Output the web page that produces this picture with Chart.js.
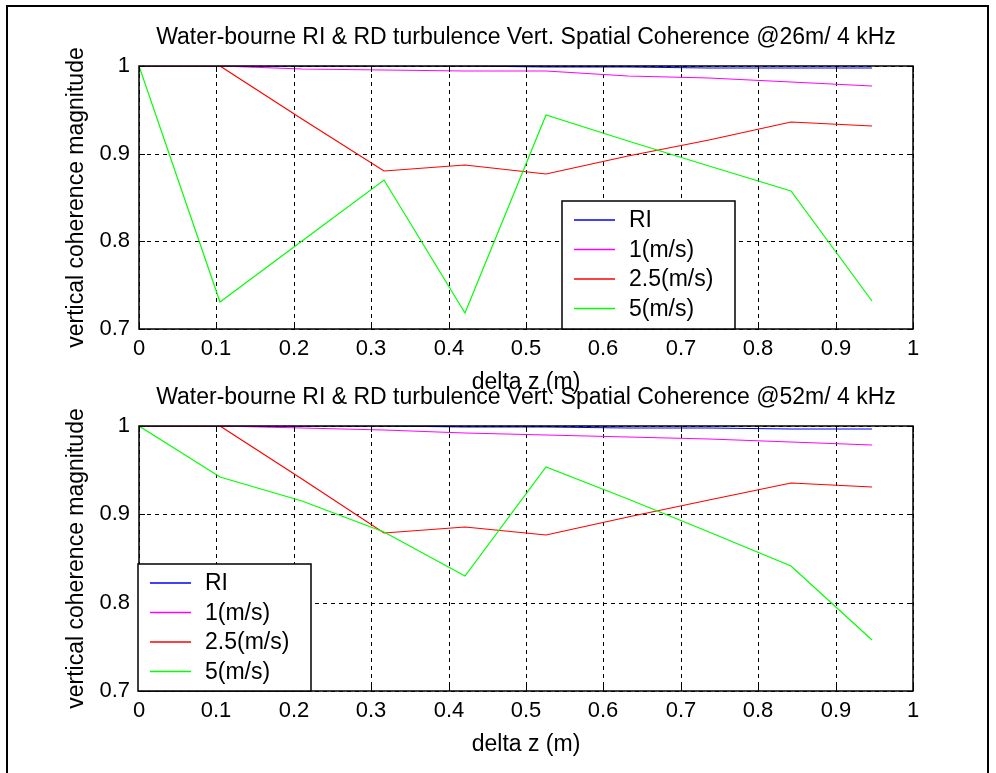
<!DOCTYPE html>
<html>
<head>
<meta charset="utf-8">
<title>Vertical spatial coherence</title>
<script src="https://cdn.jsdelivr.net/npm/chart.js@4.4.1/dist/chart.umd.min.js"></script>
<style>
  html, body { margin: 0; padding: 0; background: #fff; }
  body { width: 996px; height: 773px; position: relative; overflow: hidden; }
  #frame { position: absolute; left: 6px; top: 5px; width: 979px; height: 900px; border: 2px solid #000; border-bottom: none; }
  canvas { position: absolute; left: 0; }
  #chart26 { top: 0; }
  #chart52 { top: 359px; }
</style>
</head>
<body>
<div id="frame"></div>
<canvas id="chart26" width="996" height="400"></canvas>
<canvas id="chart52" width="996" height="400"></canvas>
<script>
// sensor separation (m)
const dz = [0, 0.105, 0.211, 0.316, 0.421, 0.526, 0.632, 0.737, 0.842, 0.947];

const seriesNames = ["RI", "1(m/s)", "2.5(m/s)", "5(m/s)"];
const seriesColors = ["#0000ff", "#ff00ff", "#ff0000", "#00ff00"];

// coherence at 26 m
const ri26 = [1, 1, 1, 1, 0.9995, 0.999, 0.9985, 0.998, 0.998, 0.998];
const wind1_26 = [1, 1, 0.997, 0.996, 0.9945, 0.994, 0.989, 0.986, 0.9815, 0.977];
const wind25_26 = [1, 1, 0.94, 0.88, 0.887, 0.877, 0.897, 0.916, 0.936, 0.932];
const wind5_26 = [1, 0.731, 0.8, 0.87, 0.718, 0.944, 0.915, 0.886, 0.857, 0.732];

// coherence at 52 m
const ri52 = [1, 1, 1, 0.9995, 0.999, 0.999, 0.998, 0.9975, 0.997, 0.997];
const wind1_52 = [1, 1, 0.998, 0.995, 0.992, 0.99, 0.988, 0.985, 0.982, 0.979];
const wind25_52 = [1, 1, 0.94, 0.879, 0.886, 0.877, 0.897, 0.916, 0.935, 0.931];
const wind5_52 = [1, 0.942, 0.915, 0.88, 0.83, 0.954, 0.917, 0.88, 0.842, 0.758];

const FONT = "'Liberation Sans', Arial, Helvetica, sans-serif";

function toPoints(ys) {
  return ys.map((y, i) => ({ x: dz[i], y }));
}

// "0", "0.1", ... "1" rather than "0.0" / "1.0"
function tickLabel(v) {
  return String(Number(v.toFixed(1)));
}

// axes box, inward ticks, title and the legend box
const matlabAxes = {
  id: "matlabAxes",
  afterDraw(chart) {
    const { ctx, chartArea: a, scales } = chart;
    const opts = chart.options.plugins.matlabAxes;
    ctx.save();

    ctx.strokeStyle = "#000";
    ctx.lineWidth = 1;
    ctx.beginPath();
    scales.x.ticks.forEach((t, i) => {
      const px = Math.round(scales.x.getPixelForTick(i)) + 0.5;
      ctx.moveTo(px, a.bottom); ctx.lineTo(px, a.bottom - 6);
      ctx.moveTo(px, a.top); ctx.lineTo(px, a.top + 6);
    });
    scales.y.ticks.forEach((t, i) => {
      const py = Math.round(scales.y.getPixelForTick(i)) + 0.5;
      ctx.moveTo(a.left, py); ctx.lineTo(a.left + 6, py);
      ctx.moveTo(a.right, py); ctx.lineTo(a.right - 6, py);
    });
    ctx.stroke();

    ctx.lineWidth = 1.5;
    ctx.strokeRect(a.left, a.top, a.right - a.left, a.bottom - a.top);

    ctx.fillStyle = "#000";
    ctx.font = "23px " + FONT;
    ctx.textAlign = "center";
    ctx.textBaseline = "middle";
    ctx.fillText(opts.title, (a.left + a.right) / 2, a.top - 28);

    // legend
    const lg = opts.legend;
    const bx = a.left + lg.left;
    const by = a.top + lg.top;
    const bw = lg.width;
    const bh = a.bottom - by;
    ctx.fillStyle = "#fff";
    ctx.fillRect(bx, by, bw, bh);
    ctx.lineWidth = 1.5;
    ctx.strokeRect(bx, by, bw, bh);
    ctx.textAlign = "left";
    chart.data.datasets.forEach((ds, i) => {
      const ry = by + 19 + i * 29.5;
      ctx.strokeStyle = ds.borderColor;
      ctx.lineWidth = 1.5;
      ctx.beginPath();
      ctx.moveTo(bx + 12, ry);
      ctx.lineTo(bx + 53, ry);
      ctx.stroke();
      ctx.fillStyle = "#000";
      ctx.fillText(ds.label, bx + 67, ry + 1);
    });
    ctx.restore();
  }
};

function makeChart(id, title, series, legend, pad) {
  const datasets = series.map((ys, i) => ({
    label: seriesNames[i],
    data: toPoints(ys),
    borderColor: seriesColors[i],
    backgroundColor: seriesColors[i],
    borderWidth: 1.2,
    pointRadius: 0,
    tension: 0,
    order: series.length - 1 - i
  }));

  const gridOpts = { color: "#000", lineWidth: 1, drawTicks: false };
  const borderOpts = { display: false, dash: [4, 4] };

  return new Chart(document.getElementById(id), {
    type: "line",
    data: { datasets },
    plugins: [matlabAxes],
    options: {
      responsive: false,
      animation: false,
      devicePixelRatio: 1,
      layout: { padding: { top: pad.top, left: 0, right: 83, bottom: 0 } },
      plugins: {
        legend: { display: false },
        tooltip: { enabled: false },
        matlabAxes: { title, legend }
      },
      scales: {
        x: {
          type: "linear",
          min: 0,
          max: 1,
          alignToPixels: true,
          ticks: { stepSize: 0.1, color: "#000", padding: 7, maxRotation: 0, font: { family: FONT, size: 22 }, callback: tickLabel },
          grid: gridOpts,
          border: borderOpts,
          title: { display: true, text: "delta z (m)", color: "#000", font: { family: FONT, size: 23 }, padding: { top: 0, bottom: pad.xTitle } },
          afterFit(s) { s.height = pad.xHeight; }
        },
        y: {
          min: 0.7,
          max: 1,
          alignToPixels: true,
          ticks: { stepSize: 0.1, color: "#000", padding: 9, font: { family: FONT, size: 22 }, callback: tickLabel },
          grid: gridOpts,
          border: borderOpts,
          title: { display: true, text: "vertical coherence magnitude", color: "#000", font: { family: FONT, size: 23 }, padding: { top: 63, bottom: 0 } },
          afterFit(s) { s.width = 139; }
        }
      }
    }
  });
}

makeChart(
  "chart26",
  "Water-bourne RI & RD turbulence Vert. Spatial Coherence @26m/ 4 kHz",
  [ri26, wind1_26, wind25_26, wind5_26],
  { left: 423, top: 135, width: 173 },
  { top: 66, xHeight: 71, xTitle: 4 }
);

makeChart(
  "chart52",
  "Water-bourne RI & RD turbulence Vert. Spatial Coherence @52m/ 4 kHz",
  [ri52, wind1_52, wind25_52, wind5_52],
  { left: -1, top: 138, width: 173 },
  { top: 67, xHeight: 68, xTitle: 1 }
);
</script>
</body>
</html>
